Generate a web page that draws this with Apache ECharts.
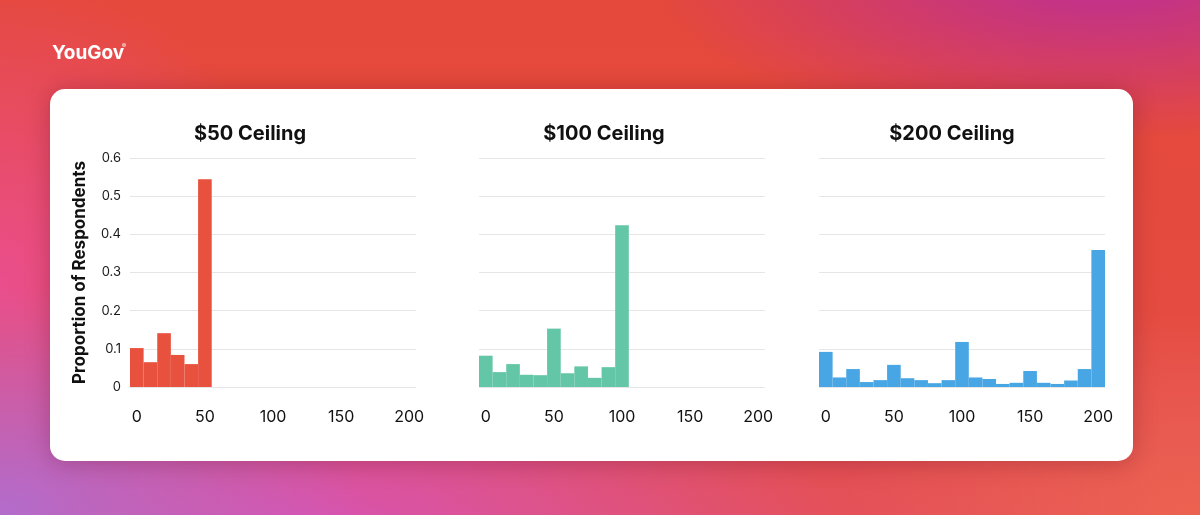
<!DOCTYPE html>
<html>
<head>
<meta charset="utf-8">
<script src="https://cdn.jsdelivr.net/npm/echarts@6/dist/echarts.min.js"></script>
<style>
  html, body { margin: 0; padding: 0; }
  body {
    width: 1200px; height: 515px; overflow: hidden;
    background:
      radial-gradient(ellipse 30% 45% at 0% 100%, rgba(178,108,204,1) 0%, rgba(178,108,204,0) 100%),
      radial-gradient(ellipse 45% 50% at 25% 105%, rgba(214,84,188,0.95) 0%, rgba(214,84,188,0) 100%),
      radial-gradient(ellipse 25% 60% at 0% 55%, rgba(234,78,140,1) 0%, rgba(234,78,140,0) 100%),
      radial-gradient(ellipse 38% 32% at 92% -5%, rgba(188,46,150,1) 0%, rgba(188,46,150,0) 100%),
      radial-gradient(ellipse 30% 40% at 100% 100%, rgba(236,98,80,1) 0%, rgba(236,98,80,0) 100%),
      linear-gradient(180deg, #e5493b 0%, #e54b40 60%, #e4515a 100%);
  }
  #chart { width: 1200px; height: 515px; }
</style>
</head>
<body>
<div id="chart"></div>
<script>
// ---- data ----
const BIN_WIDTH = 10; // each bar is centred on its value
const panelTitles = ['$50 Ceiling', '$100 Ceiling', '$200 Ceiling'];
const xTickValues = [0, 50, 100, 150, 200];
const yTickValues = [0, 0.1, 0.2, 0.3, 0.4, 0.5, 0.6];
const yAxisTitle = 'Proportion of Respondents';

const bins50 = [0, 10, 20, 30, 40, 50];
const values50 = [0.102, 0.065, 0.141, 0.084, 0.060, 0.544];

const bins100 = [0, 10, 20, 30, 40, 50, 60, 70, 80, 90, 100];
const values100 = [0.082, 0.039, 0.060, 0.032, 0.031, 0.153, 0.036, 0.054, 0.024, 0.052, 0.424];

const bins200 = [0, 10, 20, 30, 40, 50, 60, 70, 80, 90, 100, 110, 120, 130, 140, 150, 160, 170, 180, 190, 200];
const values200 = [0.092, 0.025, 0.047, 0.013, 0.018, 0.058, 0.023, 0.018, 0.010, 0.018, 0.118, 0.025, 0.021, 0.008, 0.011, 0.042, 0.011, 0.008, 0.017, 0.047, 0.359];

const colors = ['#e8513d', '#63c6a6', '#48a6e4'];

// ---- chart ----
const chart = echarts.init(document.getElementById('chart'), null, { renderer: 'canvas' });
const FONT = 'Inter, "Noto Sans", sans-serif';

const gridLefts = [130, 479, 819];
const titleCenters = [250, 604, 952];
const panels = [
  { bins: bins50, values: values50 },
  { bins: bins100, values: values100 },
  { bins: bins200, values: values200 }
];

function renderBin(params, api) {
  const c = api.value(0);
  const y = api.value(1);
  const p1 = api.coord([c - BIN_WIDTH / 2, y]);
  const p2 = api.coord([c + BIN_WIDTH / 2, 0]);
  return {
    type: 'rect',
    shape: { x: p1[0], y: p1[1], width: p2[0] - p1[0], height: p2[1] - p1[1] },
    style: { fill: api.visual('color') }
  };
}

const option = {
  backgroundColor: 'transparent',
  animation: false,
  graphic: [
    {
      type: 'rect', z: -10, silent: true,
      shape: { x: 50, y: 89, width: 1083, height: 372, r: 15 },
      style: { fill: '#ffffff', shadowBlur: 24, shadowColor: 'rgba(80,0,30,0.28)', shadowOffsetY: 2 }
    },
    {
      type: 'text', x: 52, y: 53, silent: true,
      style: { text: 'YouGov', fill: '#ffffff', font: 'bold 19px ' + FONT, verticalAlign: 'middle' }
    },
    {
      type: 'text', x: 122, y: 46, silent: true,
      style: { text: '®', fill: '#ffffff', font: '6px ' + FONT, verticalAlign: 'middle' }
    }
  ].concat(panelTitles.map((t, i) => ({
    type: 'text', x: titleCenters[i], y: 134, silent: true,
    style: { text: t, fill: '#111111', font: 'bold 20px ' + FONT, align: 'center', verticalAlign: 'middle' }
  }))),
  grid: gridLefts.map(l => ({ left: l, top: 158, width: 286, height: 229, containLabel: false })),
  xAxis: gridLefts.map((l, i) => ({
    type: 'value', gridIndex: i, min: -BIN_WIDTH / 2, max: 200 + BIN_WIDTH / 2,
    axisLine: { show: false }, axisTick: { show: false }, splitLine: { show: false },
    axisLabel: {
      customValues: xTickValues,
      margin: 22, color: '#111111',
      fontFamily: FONT, fontSize: 16
    }
  })),
  yAxis: gridLefts.map((l, i) => ({
    type: 'value', gridIndex: i, min: yTickValues[0], max: yTickValues[yTickValues.length - 1], interval: 0.1,
    axisLine: { show: false }, axisTick: { show: false },
    splitLine: { show: true, lineStyle: { color: '#e6e6e6', width: 1 } },
    axisLabel: {
      show: i === 0, margin: 9, color: '#1a1a1a', fontFamily: FONT, fontSize: 13,
      formatter: v => String(Math.round(v * 10) / 10)
    },
    name: i === 0 ? yAxisTitle : '',
    nameLocation: 'middle',
    nameGap: 42,
    nameTextStyle: { fontFamily: FONT, fontSize: 17, fontWeight: 'bold', color: '#111111' }
  })),
  series: panels.map((p, i) => ({
    type: 'custom',
    xAxisIndex: i, yAxisIndex: i,
    renderItem: renderBin,
    encode: { x: 0, y: 1 },
    itemStyle: { color: colors[i] },
    data: p.bins.map((b, k) => [b, p.values[k]])
  }))
};

chart.setOption(option);
</script>
</body>
</html>
